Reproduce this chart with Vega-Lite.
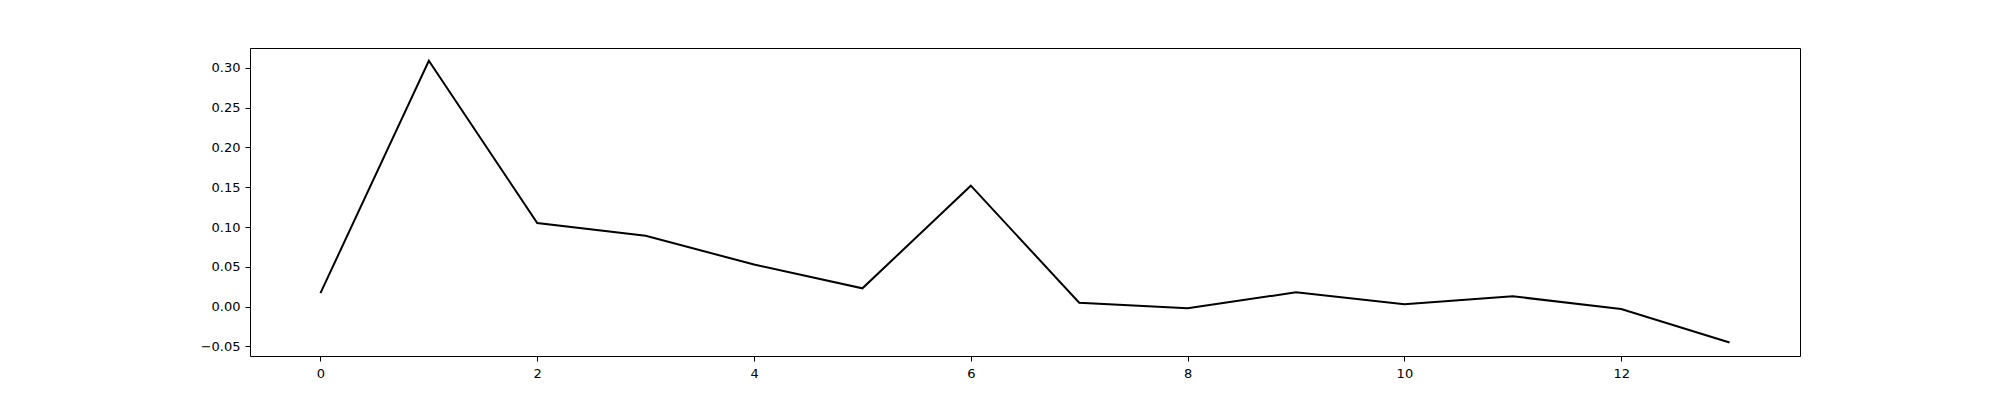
{
  "$schema": "https://vega.github.io/schema/vega-lite/v6.json",
  "width": 1550,
  "height": 308,
  "autosize": {"type": "none"},
  "padding": {"left": 250, "right": 200, "top": 48, "bottom": 44},
  "data": {
    "values": [
      {"x": 0, "y": 0.017}, {"x": 1, "y": 0.309}, {"x": 2, "y": 0.105},
      {"x": 3, "y": 0.089}, {"x": 4, "y": 0.053}, {"x": 5, "y": 0.023},
      {"x": 6, "y": 0.152}, {"x": 7, "y": 0.005}, {"x": 8, "y": -0.002},
      {"x": 9, "y": 0.018}, {"x": 10, "y": 0.003}, {"x": 11, "y": 0.013},
      {"x": 12, "y": -0.003}, {"x": 13, "y": -0.045}
    ]
  },
  "mark": {"type": "line", "color": "black", "strokeWidth": 2},
  "encoding": {
    "x": {
      "field": "x", "type": "quantitative", "title": null,
      "scale": {"domain": [-0.65, 13.65], "nice": false, "zero": false},
      "axis": {"values": [0, 2, 4, 6, 8, 10, 12], "grid": false, "labelAngle": 0, "labelFontSize": 13, "tickColor": "black", "labelColor": "black", "tickSize": 5, "labelPadding": 6, "domain": false}
    },
    "y": {
      "field": "y", "type": "quantitative", "title": null,
      "scale": {"domain": [-0.062, 0.325], "nice": false, "zero": false},
      "axis": {"values": [-0.05, 0, 0.05, 0.1, 0.15, 0.2, 0.25, 0.3], "format": ".2f", "grid": false, "labelFontSize": 13, "tickColor": "black", "labelColor": "black", "tickSize": 5, "labelPadding": 5, "domain": false}
    }
  },
  "config": {
    "view": {"stroke": "black", "strokeWidth": 1},
    "font": "DejaVu Sans"
  }
}
